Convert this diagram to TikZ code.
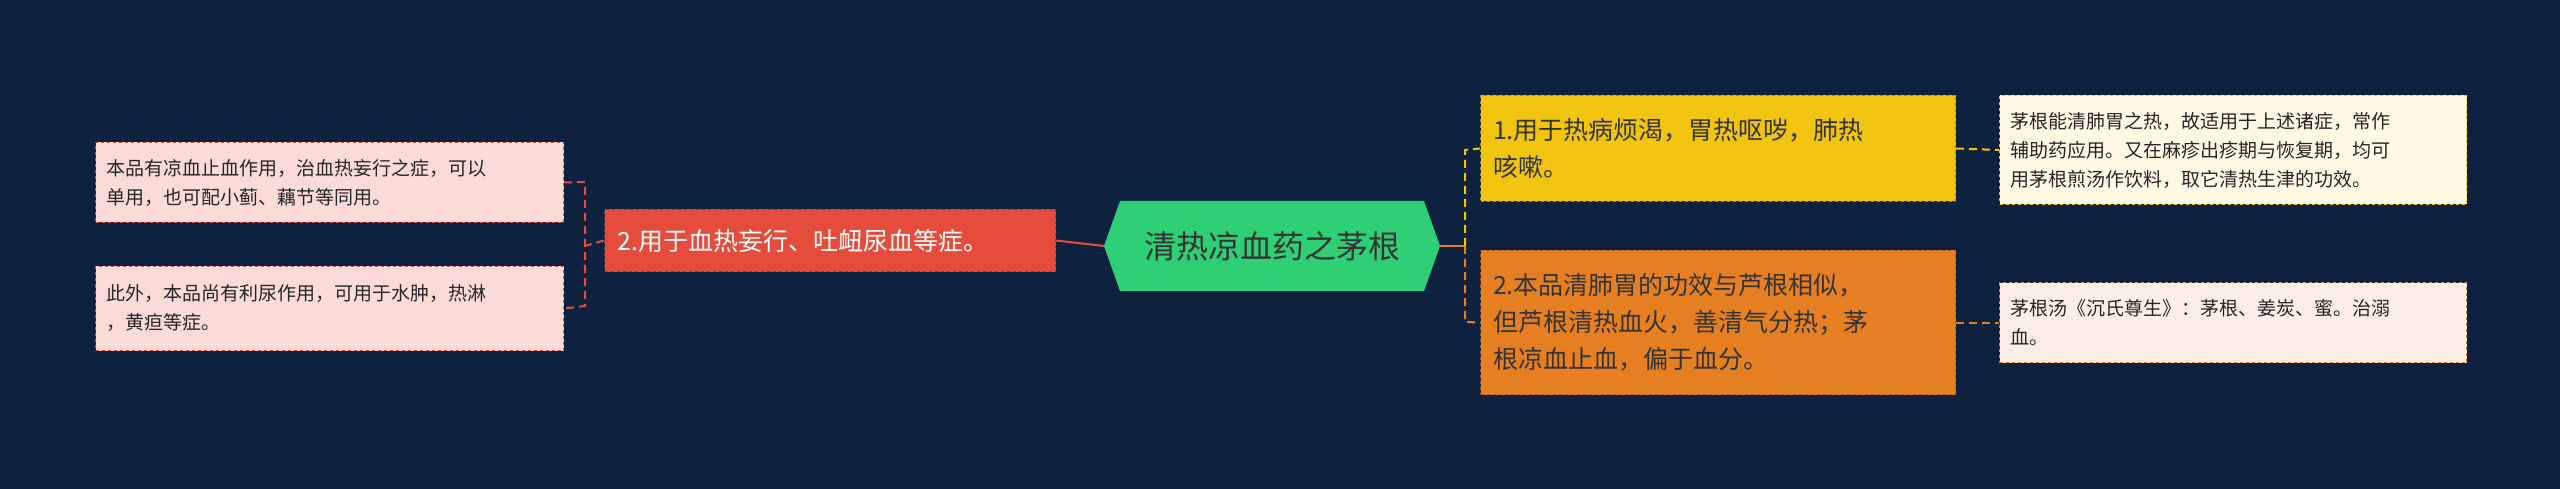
\documentclass[tikz,border=0pt]{standalone}
\usepackage{fontspec}
\setmainfont{Noto Sans CJK SC}
\begin{document}
\begin{tikzpicture}[x=1pt,y=-1pt,
  box/.style={draw, dashed, line width=1pt, align=left, inner sep=0pt, anchor=north west},
  note/.style={box, font=\fontsize{19}{29}\selectfont, text=black!85},
  mid/.style={box, font=\fontsize{25}{37}\selectfont},
  conn/.style={line width=2pt, dashed, dash pattern=on 8pt off 5pt}]
\definecolor{bg}{HTML}{0E2240}
\definecolor{gr}{HTML}{2ECF75}
\definecolor{rd}{HTML}{E64C3C}
\definecolor{yl}{HTML}{F1C40F}
\definecolor{og}{HTML}{E67E22}
\definecolor{pk}{HTML}{FADBD8}
\definecolor{cr}{HTML}{FEF9E5}
\definecolor{pc}{HTML}{FBEEE6}
\fill[bg] (0,0) rectangle (2560,489);
\useasboundingbox (0,0) rectangle (2560,489);
% center hexagon
\fill[gr] (1104,246) -- (1120,201) -- (1424,201) -- (1440,246) -- (1424,291) -- (1120,291) -- cycle;
\node[font=\fontsize{32}{38}\selectfont, text=black!80] (c) at (1272,246) {清热凉血药之茅根};
\coordinate (cl) at (1104,246);
\coordinate (cr) at (1440,246);
% red
\node[mid, fill=rd, draw=rd!70!black, text=white, minimum width=451pt, minimum height=62pt, text width=425pt, inner xsep=13pt] (r) at (604,209) {2.用于血热妄行、吐衄尿血等症。};
\node[note, fill=pk, draw=rd, minimum width=468pt, minimum height=80pt, text width=446pt, inner xsep=11pt] (n1) at (95,142) {本品有凉血止血作用，治血热妄行之症，可以\\单用，也可配小蓟、藕节等同用。};
\node[note, fill=pk, draw=rd, minimum width=468pt, minimum height=84pt, text width=446pt, inner xsep=11pt] (n2) at (95,266) {此外，本品尚有利尿作用，可用于水肿，热淋\\，黄疸等症。};
% right
\node[mid, fill=yl, draw=yl!70!black, text=black!80, minimum width=475pt, minimum height=106pt, text width=450pt, inner xsep=12pt] (y) at (1480,95) {1.用于热病烦渴，胃热呕哕，肺热\\咳嗽。};
\node[mid, fill=og, draw=og!70!black, text=black!80, minimum width=475pt, minimum height=144pt, text width=450pt, inner xsep=12pt] (o) at (1480,250) {2.本品清肺胃的功效与芦根相似，\\但芦根清热血火，善清气分热；茅\\根凉血止血，偏于血分。};
\node[note, fill=cr, draw=yl, minimum width=467pt, minimum height=109pt, text width=445pt, inner xsep=11pt] (m1) at (1999,95) {茅根能清肺胃之热，故适用于上述诸症，常作\\辅助药应用。又在麻疹出疹期与恢复期，均可\\用茅根煎汤作饮料，取它清热生津的功效。};
\node[note, fill=pc, draw=og, minimum width=467pt, minimum height=80pt, text width=445pt, inner xsep=11pt] (m2) at (1999,282) {茅根汤《沉氏尊生》：茅根、姜炭、蜜。治溺\\血。};
% connectors
\draw[rd, line width=2pt] (cl) -- (r.east);
\draw[rd, conn] (r.west) -- (585,246) (n1.east) -- (585,182) -- (585,306) -- (n2.east);
\draw[og, line width=2pt] (cr) -- (1465,246);
\draw[yl, conn] (1465,246) -- (1465,150) -- (y.west);
\draw[og, conn] (1465,246) -- (1465,322) -- (o.west);
\draw[yl, conn] (y.east) -- (m1.west);
\draw[og, conn] (o.east) -- (m2.west);
\end{tikzpicture}
\end{document}
